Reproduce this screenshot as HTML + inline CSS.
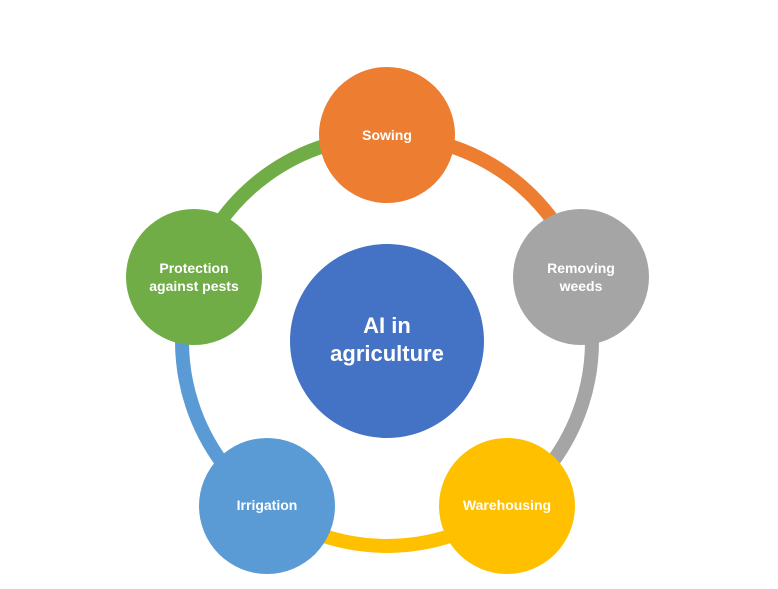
<!DOCTYPE html>
<html><head><meta charset="utf-8"><style>
html,body{margin:0;padding:0;background:#fff;}
svg{display:block;}
text{font-family:"Liberation Sans",sans-serif;fill:#fff;font-weight:bold;text-anchor:middle;}
</style></head><body>
<svg width="778" height="589" viewBox="0 0 778 589" xmlns="http://www.w3.org/2000/svg">
<g fill="none" stroke-width="14">
<path d="M387,136 A205,205 0 0 1 582,277.7" stroke="#ED7D31"/>
<path d="M582,277.7 A205,205 0 0 1 507.5,506.8" stroke="#A5A5A5"/>
<path d="M507.5,506.8 A205,205 0 0 1 266.5,506.8" stroke="#FFC000"/>
<path d="M266.5,506.8 A205,205 0 0 1 192,277.7" stroke="#5B9BD5"/>
<path d="M192,277.7 A205,205 0 0 1 387,136" stroke="#70AD47"/>
</g>
<circle cx="387" cy="341" r="97" fill="#4472C4"/>
<circle cx="387" cy="135" r="68" fill="#ED7D31"/>
<circle cx="581" cy="277" r="68" fill="#A5A5A5"/>
<circle cx="507" cy="506" r="68" fill="#FFC000"/>
<circle cx="267" cy="506" r="68" fill="#5B9BD5"/>
<circle cx="194" cy="277" r="68" fill="#70AD47"/>
<text x="387" y="333" font-size="22" font-weight="normal">AI in</text>
<text x="387" y="361" font-size="22" font-weight="normal">agriculture</text>
<text x="387" y="140" font-size="14">Sowing</text>
<text x="581" y="273" font-size="14">Removing</text>
<text x="581" y="291" font-size="14">weeds</text>
<text x="507" y="510" font-size="14">Warehousing</text>
<text x="267" y="510" font-size="14">Irrigation</text>
<text x="194" y="273" font-size="14">Protection</text>
<text x="194" y="291" font-size="14">against pests</text>
</svg>
</body></html>
